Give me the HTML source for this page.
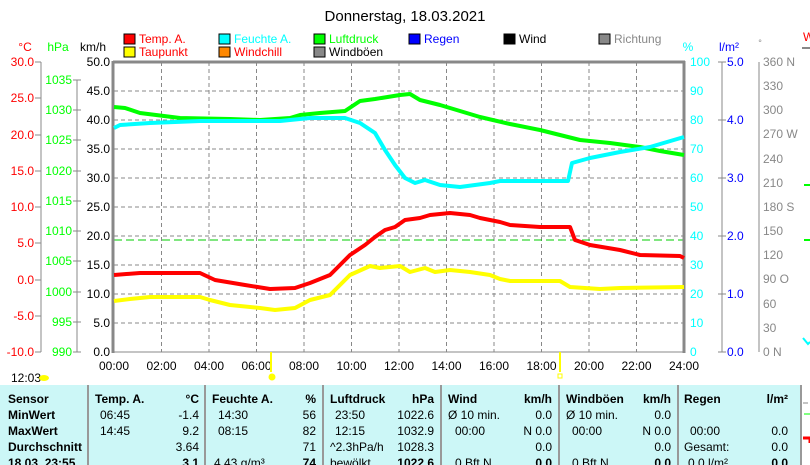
<!DOCTYPE html>
<html><head><meta charset="utf-8"><style>
body{margin:0;background:#fff;width:810px;height:465px;overflow:hidden;font-family:"Liberation Sans",sans-serif}
svg{display:block}
text{font-family:"Liberation Sans",sans-serif;font-size:12px}
</style></head><body>
<svg width="810" height="465" viewBox="0 0 810 465" xmlns="http://www.w3.org/2000/svg">
<text x="405" y="21" text-anchor="middle" font-size="15" style="font-size:15px">Donnerstag, 18.03.2021</text>
<!-- legend -->
<g font-size="12">
<rect x="124" y="34" width="11" height="10" fill="#f00" stroke="#000"/><text x="139" y="43" fill="#f00">Temp. A.</text>
<rect x="124" y="47" width="11" height="10" fill="#ff0" stroke="#000"/><text x="139" y="56" fill="#f00">Taupunkt</text>
<rect x="219" y="34" width="11" height="10" fill="#0ff" stroke="#000"/><text x="234" y="43" fill="#0ff">Feuchte A.</text>
<rect x="219" y="47" width="11" height="10" fill="#f80" stroke="#000"/><text x="234" y="56" fill="#f00">Windchill</text>
<rect x="314" y="34" width="11" height="10" fill="#0f0" stroke="#000"/><text x="329" y="43" fill="#0f0">Luftdruck</text>
<rect x="314" y="47" width="11" height="10" fill="#888" stroke="#000"/><text x="329" y="56">Windböen</text>
<rect x="409" y="34" width="11" height="10" fill="#00f" stroke="#000"/><text x="424" y="43" fill="#00f">Regen</text>
<rect x="504" y="34" width="11" height="10" fill="#000" stroke="#000"/><text x="519" y="43">Wind</text>
<rect x="599" y="34" width="11" height="10" fill="#888" stroke="#000"/><text x="614" y="43" fill="#888">Richtung</text>
</g>
<!-- axis headers -->
<text x="25" y="51" text-anchor="middle" fill="#f00">°C</text>
<text x="58" y="51" text-anchor="middle" fill="#0f0">hPa</text>
<text x="93" y="51" text-anchor="middle">km/h</text>
<text x="688" y="51" text-anchor="middle" fill="#0ff">%</text>
<text x="729" y="51" text-anchor="middle" fill="#00f">l/m²</text>
<text x="760" y="46" text-anchor="middle" fill="#888" font-size="9" style="font-size:9px">°</text>
<text x="803" y="41" fill="#f00">W</text>
<line x1="802" y1="48" x2="810" y2="48" stroke="#888" stroke-width="2"/>
<!-- grid -->
<g stroke="#888" stroke-dasharray="4,3" stroke-width="1">
<line x1="161.5" y1="62" x2="161.5" y2="352"/><line x1="209" y1="62" x2="209" y2="352"/><line x1="256.5" y1="62" x2="256.5" y2="352"/><line x1="304" y1="62" x2="304" y2="352"/><line x1="351.5" y1="62" x2="351.5" y2="352"/><line x1="399" y1="62" x2="399" y2="352"/><line x1="446.5" y1="62" x2="446.5" y2="352"/><line x1="494" y1="62" x2="494" y2="352"/><line x1="541.5" y1="62" x2="541.5" y2="352"/><line x1="589" y1="62" x2="589" y2="352"/><line x1="636.5" y1="62" x2="636.5" y2="352"/>
<line x1="114" y1="91" x2="684" y2="91"/><line x1="114" y1="120" x2="684" y2="120"/><line x1="114" y1="149" x2="684" y2="149"/><line x1="114" y1="178" x2="684" y2="178"/><line x1="114" y1="207" x2="684" y2="207"/><line x1="114" y1="236" x2="684" y2="236"/><line x1="114" y1="265" x2="684" y2="265"/><line x1="114" y1="294" x2="684" y2="294"/><line x1="114" y1="323" x2="684" y2="323"/>
</g>
<line x1="114" y1="240" x2="684" y2="240" stroke="#0c0" stroke-dasharray="8,4" stroke-width="1"/>
<!-- frame -->
<g stroke="#888" stroke-width="3" fill="none">
<line x1="113" y1="62" x2="685" y2="62"/><line x1="113" y1="61" x2="113" y2="353"/><line x1="684" y1="61" x2="684" y2="353"/>
</g>
<line x1="113" y1="352" x2="685" y2="352" stroke="#888" stroke-width="1"/>
<!-- left axes -->
<g stroke="#888"><line x1="41" y1="62" x2="41" y2="352"/><line x1="77" y1="80" x2="77" y2="352"/></g>
<g fill="#f00" text-anchor="end" font-size="12">
<text x="34" y="66">30.0</text><text x="34" y="102">25.0</text><text x="34" y="139">20.0</text><text x="34" y="175">15.0</text><text x="34" y="211">10.0</text><text x="34" y="247">5.0</text><text x="34" y="284">0.0</text><text x="34" y="320">-5.0</text><text x="34" y="356">-10.0</text>
</g>
<g stroke="#888"><line x1="35" y1="62" x2="41" y2="62"/><line x1="35" y1="98" x2="41" y2="98"/><line x1="35" y1="135" x2="41" y2="135"/><line x1="35" y1="171" x2="41" y2="171"/><line x1="35" y1="207" x2="41" y2="207"/><line x1="35" y1="243" x2="41" y2="243"/><line x1="35" y1="280" x2="41" y2="280"/><line x1="35" y1="316" x2="41" y2="316"/><line x1="35" y1="352" x2="41" y2="352"/>
<line x1="73" y1="80" x2="81" y2="80"/><line x1="73" y1="110" x2="81" y2="110"/><line x1="73" y1="140" x2="81" y2="140"/><line x1="73" y1="171" x2="81" y2="171"/><line x1="73" y1="201" x2="81" y2="201"/><line x1="73" y1="231" x2="81" y2="231"/><line x1="73" y1="261" x2="81" y2="261"/><line x1="73" y1="292" x2="81" y2="292"/><line x1="73" y1="322" x2="81" y2="322"/><line x1="73" y1="352" x2="81" y2="352"/></g>
<g fill="#0f0" text-anchor="end">
<text x="72" y="84">1035</text><text x="72" y="114">1030</text><text x="72" y="144">1025</text><text x="72" y="175">1020</text><text x="72" y="205">1015</text><text x="72" y="235">1010</text><text x="72" y="265">1005</text><text x="72" y="296">1000</text><text x="72" y="326">995</text><text x="72" y="356">990</text>
</g>
<g text-anchor="end">
<text x="110" y="66">50.0</text><text x="110" y="95">45.0</text><text x="110" y="124">40.0</text><text x="110" y="153">35.0</text><text x="110" y="182">30.0</text><text x="110" y="211">25.0</text><text x="110" y="240">20.0</text><text x="110" y="269">15.0</text><text x="110" y="298">10.0</text><text x="110" y="327">5.0</text><text x="110" y="356">0.0</text>
</g>
<!-- right axes -->
<g fill="#0ff"><text x="690" y="66">100</text><text x="690" y="95">90</text><text x="690" y="124">80</text><text x="690" y="153">70</text><text x="690" y="182">60</text><text x="690" y="211">50</text><text x="690" y="240">40</text><text x="690" y="269">30</text><text x="690" y="298">20</text><text x="690" y="327">10</text><text x="690" y="356">0</text></g>
<g stroke="#888"><line x1="722" y1="62" x2="722" y2="352"/><line x1="718" y1="62" x2="726" y2="62"/><line x1="718" y1="120" x2="726" y2="120"/><line x1="718" y1="178" x2="726" y2="178"/><line x1="718" y1="236" x2="726" y2="236"/><line x1="718" y1="294" x2="726" y2="294"/><line x1="718" y1="352" x2="726" y2="352"/>
<line x1="759" y1="62" x2="759" y2="352"/></g>
<g fill="#00f"><text x="727" y="66">5.0</text><text x="727" y="124">4.0</text><text x="727" y="182">3.0</text><text x="727" y="240">2.0</text><text x="727" y="298">1.0</text><text x="727" y="356">0.0</text></g>
<g fill="#888"><text x="763" y="66">360 N</text><text x="763" y="90">330</text><text x="763" y="114">300</text><text x="763" y="138">270 W</text><text x="763" y="163">240</text><text x="763" y="187">210</text><text x="763" y="211">180 S</text><text x="763" y="235">150</text><text x="763" y="259">120</text><text x="763" y="283">90 O</text><text x="763" y="308">60</text><text x="763" y="332">30</text><text x="763" y="356">0 N</text></g>
<path d="M804 185h6M804 240h6" stroke="#0f0" stroke-width="2"/>
<path d="M803 338l5 6 2-2" stroke="#0ff" stroke-width="2" fill="none"/>
<!-- x labels -->
<g text-anchor="middle"><text x="114" y="370">00:00</text><text x="161.5" y="370">02:00</text><text x="209" y="370">04:00</text><text x="256.5" y="370">06:00</text><text x="304" y="370">08:00</text><text x="351.5" y="370">10:00</text><text x="399" y="370">12:00</text><text x="446.5" y="370">14:00</text><text x="494" y="370">16:00</text><text x="541.5" y="370">18:00</text><text x="589" y="370">20:00</text><text x="636.5" y="370">22:00</text><text x="684" y="370">24:00</text></g>
<line x1="271" y1="352" x2="271" y2="372" stroke="#ff0" stroke-width="2"/><circle cx="272" cy="377" r="3.5" fill="#ff0"/>
<line x1="560" y1="352" x2="560" y2="372" stroke="#ff0" stroke-width="2"/><rect x="558" y="374" width="4" height="4" fill="none" stroke="#ff0"/>
<text x="11" y="382">12:03</text><ellipse cx="44" cy="378" rx="5" ry="3" fill="#ff0"/>
<!-- series -->
<g fill="none" stroke-width="4" stroke-linejoin="round">
<polyline stroke="#0f0" points="114,107 125,108 140,113 180,118 230,119 260,120 290,118 300,115 320,113 345,111 360,101 375,99 400,95 410,94 420,100 440,105 480,117 510,124 540,130 560,135 580,140 610,143 640,147 660,151 684,155"/>
<polyline stroke="#0ff" points="114,128 120,125 150,123 200,121 280,121 310,118 345,118 360,123 375,133 385,150 395,165 405,178 415,183 425,180 440,185 460,187 490,183 500,181 568,181 572,163 590,158 620,152 650,147 684,137"/>
<polyline stroke="#ff0" points="114,301 130,299 150,297 200,297 210,300 230,305 260,308 275,310 295,308 310,300 330,295 340,285 350,275 370,266 380,268 400,266 410,272 425,268 435,272 450,270 470,272 490,275 500,279 510,281 560,281 570,287 600,289 620,288 684,287"/>
<polyline stroke="#f00" points="114,275 140,273 200,273 215,280 245,285 270,289 295,288 310,283 330,275 340,265 350,255 365,245 375,237 385,230 395,227 405,220 420,218 430,215 450,213 470,215 480,218 500,222 510,225 540,227 570,227 575,240 590,245 620,250 640,255 680,256 684,258"/>
</g>
<!-- table -->
<rect x="0" y="385" width="801" height="80" fill="#ccf7f7"/>
<g stroke="#999" stroke-width="2"><line x1="88" y1="385" x2="88" y2="465"/><line x1="205" y1="385" x2="205" y2="465"/><line x1="323" y1="385" x2="323" y2="465"/><line x1="441" y1="385" x2="441" y2="465"/><line x1="559" y1="385" x2="559" y2="465"/><line x1="678" y1="385" x2="678" y2="465"/><line x1="801" y1="385" x2="801" y2="465"/></g>
<g font-weight="bold"><text x="8" y="403">Sensor</text><text x="8" y="419">MinWert</text><text x="8" y="435">MaxWert</text><text x="8" y="451">Durchschnitt</text><text x="8" y="467">18.03. 23:55</text>
<text x="95" y="403">Temp. A.</text><text x="199" y="403" text-anchor="end">°C</text>
<text x="212" y="403">Feuchte A.</text><text x="316" y="403" text-anchor="end">%</text>
<text x="330" y="403">Luftdruck</text><text x="434" y="403" text-anchor="end">hPa</text>
<text x="448" y="403">Wind</text><text x="552" y="403" text-anchor="end">km/h</text>
<text x="566" y="403">Windböen</text><text x="671" y="403" text-anchor="end">km/h</text>
<text x="684" y="403">Regen</text><text x="788" y="403" text-anchor="end">l/m²</text>
<text x="199" y="467" text-anchor="end">3.1</text><text x="316" y="467" text-anchor="end">74</text><text x="434" y="467" text-anchor="end">1022.6</text><text x="552" y="467" text-anchor="end">0.0</text><text x="671" y="467" text-anchor="end">0.0</text><text x="788" y="467" text-anchor="end">0.0</text></g>
<g><text x="100" y="419">06:45</text><text x="199" y="419" text-anchor="end">-1.4</text><text x="100" y="435">14:45</text><text x="199" y="435" text-anchor="end">9.2</text><text x="199" y="451" text-anchor="end">3.64</text>
<text x="218" y="419">14:30</text><text x="316" y="419" text-anchor="end">56</text><text x="218" y="435">08:15</text><text x="316" y="435" text-anchor="end">82</text><text x="316" y="451" text-anchor="end">71</text><text x="214" y="467">4.43 g/m³</text>
<text x="335" y="419">23:50</text><text x="434" y="419" text-anchor="end">1022.6</text><text x="335" y="435">12:15</text><text x="434" y="435" text-anchor="end">1032.9</text><text x="330" y="451">^2.3hPa/h</text><text x="434" y="451" text-anchor="end">1028.3</text><text x="330" y="467">bewölkt</text>
<text x="448" y="419">Ø 10 min.</text><text x="552" y="419" text-anchor="end">0.0</text><text x="455" y="435">00:00</text><text x="552" y="435" text-anchor="end">N 0.0</text><text x="552" y="451" text-anchor="end">0.0</text><text x="455" y="467">0 Bft N</text>
<text x="566" y="419">Ø 10 min.</text><text x="671" y="419" text-anchor="end">0.0</text><text x="572" y="435">00:00</text><text x="671" y="435" text-anchor="end">N 0.0</text><text x="671" y="451" text-anchor="end">0.0</text><text x="572" y="467">0 Bft N</text>
<text x="690" y="435">00:00</text><text x="788" y="435" text-anchor="end">0.0</text><text x="684" y="451">Gesamt:</text><text x="788" y="451" text-anchor="end">0.0</text><text x="688" y="467">0.0 l/m²</text></g>
<line x1="803" y1="403" x2="808" y2="403" stroke="#888"/><line x1="804" y1="414" x2="810" y2="414" stroke="#0f0"/><path d="M803 438h7v5" stroke="#f00" stroke-width="3" fill="none"/>
</svg>
</body></html>
